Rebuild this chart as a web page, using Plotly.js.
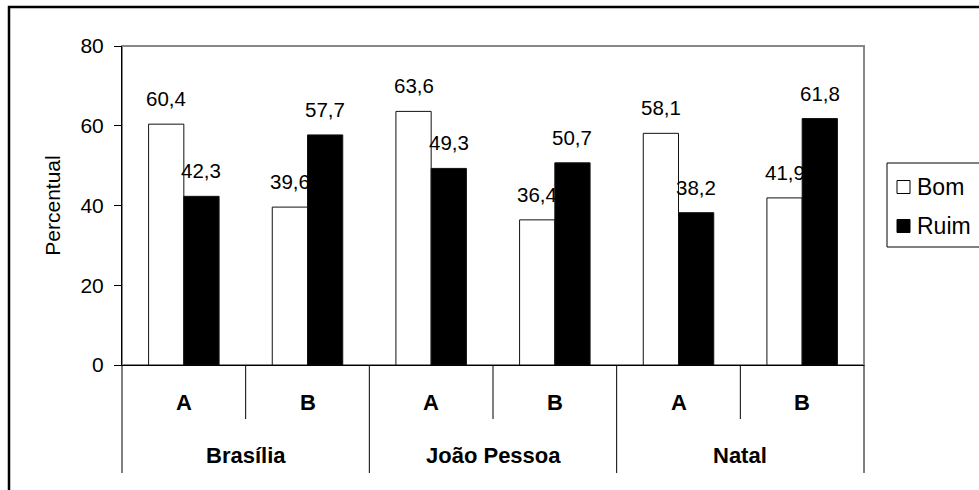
<!DOCTYPE html>
<html>
<head>
<meta charset="utf-8">
<script src="https://cdn.plot.ly/plotly-3.0.1.min.js"></script>
<style>html,body{margin:0;padding:0;background:#fff;}#chart{width:979px;height:490px;}</style>
</head>
<body>
<div id="chart"></div>
<script>
// ---- data ----
const cities = ['Brasília', 'João Pessoa', 'Natal'];
const groups = ['A', 'B'];
const seriesNames = ['Bom', 'Ruim'];
const bom = [60.4, 39.6, 63.6, 36.4, 58.1, 41.9];
const ruim = [42.3, 57.7, 49.3, 50.7, 38.2, 61.8];
const yTicks = [0, 20, 40, 60, 80];
const yTitle = 'Percentual';

// ---- build ----
const FONT = 'Liberation Sans, Arial, sans-serif';
const cats = [];
cities.forEach(c => groups.forEach(g => cats.push(c + ' ' + g)));
const series = [bom, ruim];
const fills = ['#ffffff', '#000000'];
const bargap = 0.43;

// pixel layout of plot area
const L = 122, R = 864, T = 46, B = 365, W = 979, H = 490;
const pw = R - L, ph = B - T;
const px = x => (x - L) / pw;
const py = y => (B - y) / ph;

const traces = series.map((vals, s) => ({
  type: 'bar',
  name: seriesNames[s],
  x: cats,
  y: vals,
  marker: {color: fills[s], line: {color: '#111111', width: 1}},
  hoverinfo: 'none',
  showlegend: false
}));

const fmt = v => v.toFixed(1).replace('.', ',');
const annotations = [];
const barOff = (1 - bargap) / 4;
series.forEach((vals, s) => {
  vals.forEach((v, i) => {
    annotations.push({
      xref: 'x', yref: 'y', x: i + (s === 0 ? -barOff : barOff), y: v,
      text: fmt(v), showarrow: false, xanchor: 'center', yanchor: 'bottom', yshift: 12,
      font: {family: FONT, size: 20.5, color: '#000'}
    });
  });
});
// category labels
cats.forEach((c, i) => {
  annotations.push({
    xref: 'x', yref: 'paper', x: i, y: py(402), text: '<b>' + groups[i % groups.length] + '</b>',
    showarrow: false, xanchor: 'center', yanchor: 'middle',
    font: {family: FONT, size: 22, color: '#000'}
  });
});
cities.forEach((c, k) => {
  annotations.push({
    xref: 'x', yref: 'paper', x: k * groups.length + (groups.length - 1) / 2, y: py(455),
    text: '<b>' + c + '</b>', showarrow: false, xanchor: 'center', yanchor: 'middle',
    font: {family: FONT, size: 22, color: '#000'}
  });
});
// legend text
seriesNames.forEach((n, s) => {
  annotations.push({
    xref: 'paper', yref: 'paper', x: px(915), y: py(187 + s * 39), text: n,
    showarrow: false, xanchor: 'left', yanchor: 'middle',
    font: {family: FONT, size: 23, color: '#000'}
  });
});

const shapes = [];
// outer frame
shapes.push({type: 'rect', xref: 'paper', yref: 'paper', x0: px(9), x1: px(1000), y0: py(7), y1: py(520),
  line: {color: '#000', width: 2.5}, fillcolor: 'rgba(0,0,0,0)', layer: 'below'});
// plot frame (grey top/right)
shapes.push({type: 'rect', xref: 'paper', yref: 'paper', x0: 0, x1: 1, y0: 0, y1: 1,
  line: {color: '#888888', width: 2}, fillcolor: 'rgba(0,0,0,0)', layer: 'below'});
// category dividers below axis
const nCat = cats.length;
for (let k = 0; k <= nCat; k++) {
  const isCity = (k % groups.length === 0);
  const yb = isCity ? py(473) : py(419);
  if (k === 0 || k === nCat) {
    shapes.push({type: 'line', xref: 'paper', yref: 'paper', x0: k === 0 ? 0 : 1, x1: k === 0 ? 0 : 1,
      y0: 0, y1: yb, line: {color: '#000', width: 1}});
  } else {
    shapes.push({type: 'line', xref: 'x', yref: 'paper', x0: k - 0.5, x1: k - 0.5,
      y0: 0, y1: yb, line: {color: '#000', width: 1}});
  }
}
// legend box + swatches
shapes.push({type: 'rect', xref: 'paper', yref: 'paper', x0: px(887), x1: px(1000), y0: py(163), y1: py(247),
  line: {color: '#000', width: 1}, fillcolor: 'rgba(0,0,0,0)'});
seriesNames.forEach((n, s) => {
  const cy = 187 + s * 39;
  shapes.push({type: 'rect', xref: 'paper', yref: 'paper', x0: px(897), x1: px(910), y0: py(cy - 6.5), y1: py(cy + 6.5),
    line: {color: '#000', width: 1}, fillcolor: fills[s]});
});

const layout = {
  width: W, height: H,
  margin: {l: L, r: W - R, t: T, b: H - B, pad: 0},
  paper_bgcolor: '#ffffff', plot_bgcolor: '#ffffff',
  barmode: 'group', bargap: bargap, bargroupgap: 0,
  showlegend: false,
  font: {family: FONT, size: 21, color: '#000'},
  xaxis: {type: 'category', range: [-0.5, nCat - 0.5], showticklabels: false, ticks: '',
    showline: true, linecolor: '#000', linewidth: 1, showgrid: false, zeroline: false, fixedrange: true},
  yaxis: {range: [0, 80], tickvals: yTicks, ticktext: yTicks.map(String), ticks: 'outside', ticklen: 7,
    tickcolor: '#000', tickwidth: 1, showline: true, linecolor: '#000', linewidth: 1,
    showgrid: false, zeroline: false, fixedrange: true, ticklabelstandoff: 6,
    tickfont: {family: FONT, size: 21, color: '#000'},
    title: {text: yTitle, font: {family: FONT, size: 21, color: '#000'}, standoff: 14}},
  annotations: annotations,
  shapes: shapes
};

Plotly.newPlot('chart', traces, layout, {displayModeBar: false, staticPlot: true});
</script>
</body>
</html>
